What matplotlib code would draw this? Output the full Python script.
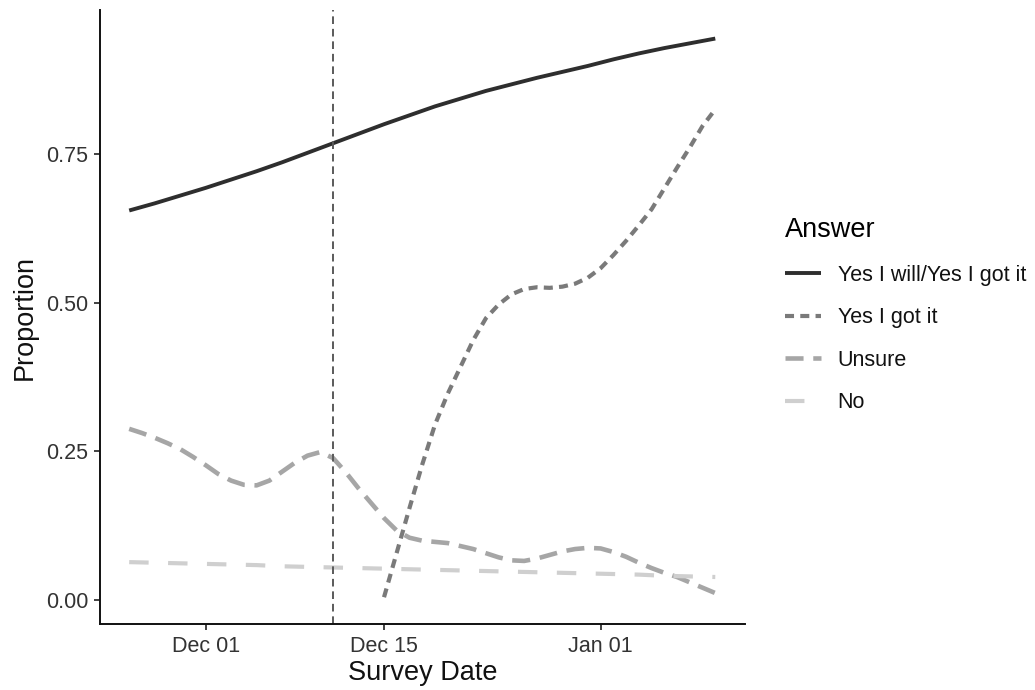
import matplotlib
matplotlib.use("Agg")
import matplotlib.pyplot as plt
import matplotlib.dates as mdates
import pandas as pd

# ---------------- data ----------------
dates_2d = pd.date_range("2020-11-25", "2021-01-10", freq="2D")
dates_1d = pd.date_range("2020-11-25", "2021-01-10", freq="D")
dates_got = pd.date_range("2020-12-15", "2021-01-10", freq="D")

yes_will = [0.655, 0.667, 0.680, 0.693, 0.707, 0.721, 0.736, 0.752, 0.768, 0.784,
            0.800, 0.815, 0.830, 0.843, 0.856, 0.867, 0.878, 0.888, 0.898, 0.909,
            0.919, 0.928, 0.936, 0.944]

yes_got = [0.005, 0.080, 0.155, 0.228, 0.295, 0.347, 0.392, 0.437, 0.474, 0.497,
           0.514, 0.523, 0.526, 0.525, 0.527, 0.532, 0.542, 0.558, 0.580, 0.604,
           0.630, 0.657, 0.692, 0.727, 0.761, 0.797, 0.825]

unsure = [0.288, 0.281, 0.273, 0.264, 0.254, 0.241, 0.227, 0.212, 0.201, 0.194,
          0.193, 0.201, 0.216, 0.231, 0.243, 0.249, 0.239, 0.215, 0.188, 0.163,
          0.138, 0.117, 0.105, 0.100, 0.098, 0.096, 0.091, 0.086, 0.079, 0.072,
          0.067, 0.066, 0.070, 0.076, 0.082, 0.086, 0.088, 0.087, 0.081, 0.073,
          0.063, 0.054, 0.046, 0.039, 0.030, 0.021, 0.012]

no = [0.064, 0.063, 0.062, 0.061, 0.060, 0.059, 0.057, 0.056, 0.055, 0.054,
      0.053, 0.052, 0.051, 0.050, 0.049, 0.048, 0.047, 0.046, 0.045, 0.044,
      0.043, 0.041, 0.040, 0.039]

event_date = pd.Timestamp("2020-12-11")
x_ticks = pd.to_datetime(["2020-12-01", "2020-12-15", "2021-01-01"])
y_ticks = [0.00, 0.25, 0.50, 0.75]
labels = ["Yes I will/Yes I got it", "Yes I got it", "Unsure", "No"]

# ---------------- plot ----------------
plt.rcParams["font.family"] = ["Liberation Sans", "DejaVu Sans"]
plt.rcParams["lines.scale_dashes"] = False

fig = plt.figure(figsize=(10.35, 6.9), dpi=100)
ax = fig.add_axes([100 / 1035, 1 - 624 / 690, 645 / 1035, 614 / 690])

l1, = ax.plot(dates_2d, yes_will, color="#2e2e2e", lw=2.8, solid_capstyle="butt",
              label=labels[0])
l2, = ax.plot(dates_got, yes_got, color="#7a7a7a", lw=3.0, dash_capstyle="butt",
              label=labels[1])
l2.set_dashes((6.5, 4.5))
l3, = ax.plot(dates_1d, unsure, color="#a6a6a6", lw=3.3, dash_capstyle="butt",
              label=labels[2])
l3.set_dashes((13, 7))
l4, = ax.plot(dates_2d, no, color="#cfcfcf", lw=3.0, dash_capstyle="butt",
              label=labels[3])
l4.set_dashes((14, 14))

ax.axvline(event_date, color="#5a5a5a", lw=1.4, dashes=(5.5, 3.5))

ax.set_xlim(pd.Timestamp("2020-11-22 17:00"), pd.Timestamp("2021-01-12 08:00"))
ax.set_ylim(-0.040, 0.992)

ax.set_xticks(x_ticks)
ax.xaxis.set_major_formatter(mdates.DateFormatter("%b %d"))
ax.set_yticks(y_ticks)
ax.set_yticklabels([f"{v:.2f}" for v in y_ticks])

for s in ["top", "right"]:
    ax.spines[s].set_visible(False)
for s in ["left", "bottom"]:
    ax.spines[s].set_linewidth(1.4)
    ax.spines[s].set_color("#111111")

ax.tick_params(axis="both", length=4.5, width=1.3, color="#333333",
               labelsize=15.5, labelcolor="#333333", pad=4)

ax.set_xlabel("Survey Date", fontsize=19.5, color="#111111", labelpad=2)
ax.set_ylabel("Proportion", fontsize=19.5, color="#111111", labelpad=6)

leg = fig.legend(handles=[l1, l2, l3, l4], labels=labels, title="Answer",
                 loc="upper left", bbox_to_anchor=(785 / 1035, 1 - 217 / 690),
                 frameon=False, fontsize=15.5, title_fontsize=19.5,
                 borderpad=0, borderaxespad=0,
                 handlelength=1.65, handletextpad=0.8, labelspacing=1.0,
                 alignment="left")
for t in leg.get_texts():
    t.set_color("#111111")

fig.savefig("out.png", dpi=100)
